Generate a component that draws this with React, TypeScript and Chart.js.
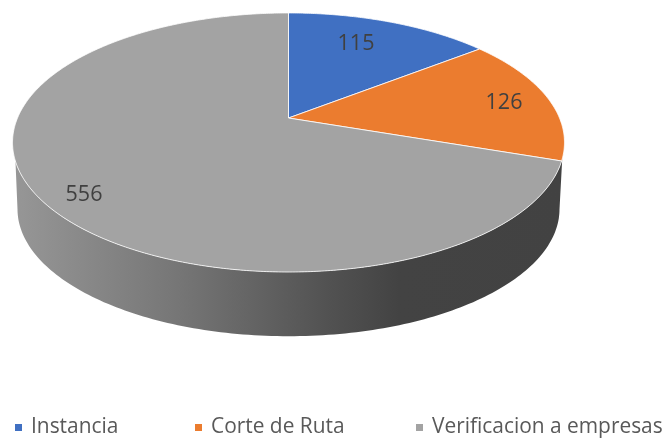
import React, { useEffect, useRef } from "react";
import { Chart, registerables } from "chart.js";

Chart.register(...registerables);

const categories = ["Instancia", "Corte de Ruta", "Verificacion a empresas"];
const values = [115, 126, 556];
const colors = ["#4070C2", "#EB7C2F", "#A3A3A3"];

const FONT = '"Open Sans", sans-serif';
// Perspective view of the pie's top face and base
const CX = 288.5;
const CY = 118;
const RX = 271;
const RY = 124.9;
const K = -0.189;
const DEPTH = 67;
const BASE_SCALE = 0.982;

const project = (theta: number, f = 1, base = false) => {
  const u = Math.sin(theta) * f;
  const v = -Math.cos(theta) * f;
  const w = 1 + K * v;
  const s = base ? BASE_SCALE : 1;
  return {
    x: CX + (RX * s * u) / w,
    y: CY + (base ? DEPTH : 0) + (RY * s * v) / w,
  };
};

const deg = (d: number) => (d * Math.PI) / 180;

const labelAnchors = [
  [356, 44],
  [504, 103],
  [84, 195],
];
const legendStarts = [15, 195, 416];

const pie3d = {
  id: "pie3d",
  beforeDatasetDraw(chart: any, args: any) {
    const ctx = chart.ctx;
    const arcs = chart.getDatasetMeta(args.index).data;

    // wall
    ctx.save();
    const grad = ctx.createLinearGradient(12, 0, 565, 0);
    grad.addColorStop(0, "#979797");
    grad.addColorStop(0.3, "#767676");
    grad.addColorStop(0.57, "#525252");
    grad.addColorStop(0.7, "#434343");
    grad.addColorStop(1, "#424242");
    ctx.fillStyle = grad;
    ctx.beginPath();
    for (let d = 108; d <= 251; d += 1) {
      const p = project(deg(d));
      ctx.lineTo(p.x, p.y);
    }
    for (let d = 259; d >= 101; d -= 1) {
      const p = project(deg(d), 1, true);
      ctx.lineTo(p.x, p.y);
    }
    ctx.closePath();
    ctx.fill();

    // top face
    arcs.forEach((arc: any, i: number) => {
      const { startAngle, endAngle } = arc.getProps(["startAngle", "endAngle"], true);
      const a0 = startAngle + Math.PI / 2;
      const a1 = endAngle + Math.PI / 2;
      ctx.beginPath();
      ctx.moveTo(CX, CY);
      const steps = Math.max(2, Math.ceil((a1 - a0) / deg(0.5)));
      for (let s = 0; s <= steps; s++) {
        const p = project(a0 + ((a1 - a0) * s) / steps);
        ctx.lineTo(p.x, p.y);
      }
      ctx.closePath();
      ctx.fillStyle = colors[i];
      ctx.fill();
      ctx.strokeStyle = "rgba(255,255,255,0.8)";
      ctx.lineWidth = 1;
      ctx.lineJoin = "round";
      ctx.stroke();
    });
    ctx.restore();
    return false;
  },
  afterDraw(chart: any) {
    const ctx = chart.ctx;
    ctx.save();
    ctx.textBaseline = "middle";
    ctx.textAlign = "center";
    ctx.font = `21.5px ${FONT}`;
    ctx.fillStyle = "#404040";
    values.forEach((v, i) => {
      ctx.fillText(String(v), labelAnchors[i][0], labelAnchors[i][1]);
    });
    ctx.textAlign = "left";
    ctx.font = `20.9px ${FONT}`;
    categories.forEach((c, i) => {
      const x = legendStarts[i];
      ctx.fillStyle = colors[i];
      ctx.fillRect(x, 424, 7, 7);
      ctx.fillStyle = "#595959";
      ctx.fillText(c, x + 16, 427);
    });
    ctx.restore();
  },
};

export default function App() {
  const ref = useRef<HTMLCanvasElement>(null);
  useEffect(() => {
    const chart = new Chart(ref.current as HTMLCanvasElement, {
      type: "pie",
      data: {
        labels: categories,
        datasets: [{ data: values, backgroundColor: colors }],
      },
      options: {
        responsive: false,
        animation: false,
        plugins: { legend: { display: false }, tooltip: { enabled: false } },
      },
      plugins: [pie3d],
    } as any);
    return () => chart.destroy();
  }, []);
  return (
    <div style={{ position: "absolute", left: 0, top: 0, width: 665, height: 441, background: "#fff" }}>
      <canvas ref={ref} width={665} height={441} style={{ display: "block" }} />
    </div>
  );
}
